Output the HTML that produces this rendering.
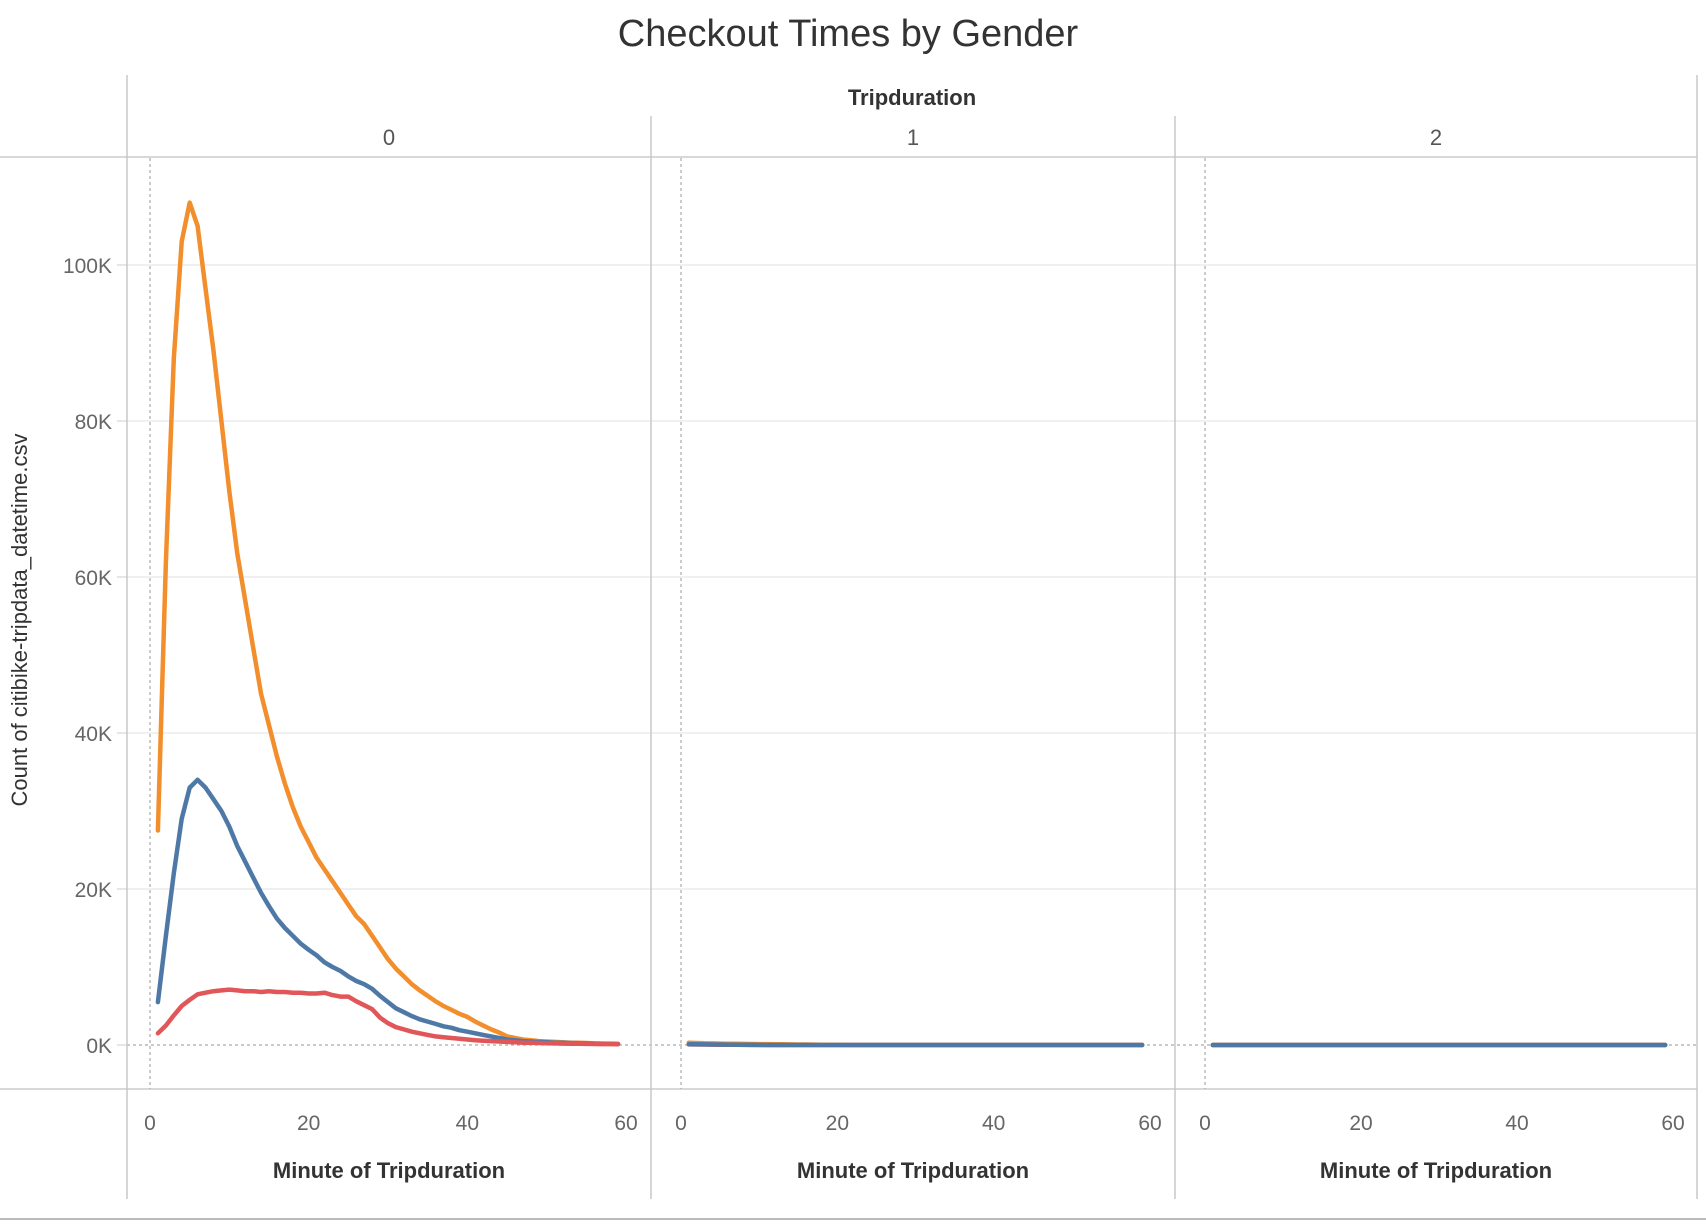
<!DOCTYPE html>
<html><head><meta charset="utf-8"><style>
html,body{margin:0;padding:0;background:#fff;}
svg{display:block;font-family:"Liberation Sans",sans-serif;}
</style></head><body>
<svg id="chart" width="1706" height="1224" viewBox="0 0 1706 1224">
<text x="848" y="46" font-size="38" text-anchor="middle" fill="#333">Checkout Times by Gender</text>
<text x="912" y="105" font-size="22" font-weight="bold" text-anchor="middle" fill="#333">Tripduration</text>
<text x="27" y="620" font-size="22" text-anchor="middle" fill="#333" transform="rotate(-90 27 620)">Count of citibike-tripdata_datetime.csv</text>
<g id="frame"></g>
<g id="marks"></g>
</svg>
<script>
const panels = ["0","1","2"];
const minutes = [1,2,3,4,5,6,7,8,9,10,11,12,13,14,15,16,17,18,19,20,21,22,23,24,25,26,27,28,29,30,31,32,33,34,35,36,37,38,39,40,41,42,43,44,45,46,47,48,49,50,51,52,53,54,55,56,57,58,59];
const orange0 = [27500,62000,88000,103000,108000,105000,97000,89000,80000,71000,63000,57000,51000,45000,41000,37000,33500,30500,28000,26000,24000,22500,21000,19500,18000,16500,15500,14000,12500,11000,9800,8800,7800,7000,6300,5600,5000,4500,4000,3600,3000,2500,2000,1600,1100,900,700,600,500,450,400,350,300,280,250,200,180,150,130];
const blue0 = [5500,14000,22000,29000,33000,34000,33000,31500,30000,28000,25500,23500,21500,19500,17800,16200,15000,14000,13000,12200,11500,10600,10000,9500,8800,8200,7800,7200,6300,5500,4700,4200,3700,3300,3000,2700,2400,2200,1900,1700,1500,1300,1100,900,700,600,500,450,400,350,300,280,250,220,200,180,160,150,130];
const red0 = [1500,2500,3800,5000,5800,6500,6700,6900,7000,7100,7000,6900,6900,6800,6900,6800,6800,6700,6700,6600,6600,6700,6400,6200,6200,5600,5100,4600,3500,2800,2300,2000,1700,1500,1300,1100,1000,900,800,700,600,550,500,450,400,350,300,280,250,220,200,180,160,150,140,130,120,110,100];
const orange1 = [300,250,220,200,180,160,150,140,130,120,110,100,90,80,70,60,50,40,30,20,10,0,0,0,0,0,0,0,0,0,0,0,0,0,0,0,0,0,0,0,0,0,0,0,0,0,0,0,0,0,0,0,0,0,0,0,0,0,0];
const blue1 = [100,90,80,70,60,50,40,30,20,10,0,0,0,0,0,0,0,0,0,0,0,0,0,0,0,0,0,0,0,0,0,0,0,0,0,0,0,0,0,0,0,0,0,0,0,0,0,0,0,0,0,0,0,0,0,0,0,0,0];
const red1 = [80,70,60,50,40,30,20,10,0,0,0,0,0,0,0,0,0,0,0,0,0,0,0,0,0,0,0,0,0,0,0,0,0,0,0,0,0,0,0,0,0,0,0,0,0,0,0,0,0,0,0,0,0,0,0,0,0,0,0];
const zeros = minutes.map(()=>0);
const yTicks = [0,20000,40000,60000,80000,100000];
const yTickLabels = ["0K","20K","40K","60K","80K","100K"];
const xTicks = [0,20,40,60];

const NS="http://www.w3.org/2000/svg";
const frame=document.getElementById('frame'), marks=document.getElementById('marks');
function mk(tag,attrs,parent){const e=document.createElementNS(NS,tag);for(const k in attrs)e.setAttribute(k,attrs[k]);parent.appendChild(e);return e;}
const panelX0=[150,681,1205], panelX60=[626,1150,1673];
const panelLeft=[127,651,1175], panelRight=[651,1175,1697];
function y(v){return 1045 - v/20000*156;}
function x(p,m){return panelX0[p]+(panelX60[p]-panelX0[p])*m/60;}

let l;
l=mk('line',{x1:0,y1:157,x2:1697,y2:157,stroke:'#ccc','stroke-width':1.5},frame);


l=mk('line',{x1:0,y1:1089,x2:1697,y2:1089,stroke:'#ccc','stroke-width':1.5},frame);


l=mk('line',{x1:0,y1:1219,x2:1706,y2:1219,stroke:'#bbb','stroke-width':2},frame);


yTicks.forEach((t,i)=>{
  if(t>0){const g=mk('line',{x1:127,y1:y(t),x2:1697,y2:y(t),stroke:'#ececec','stroke-width':1.5},frame);
  
  }
  const tk=mk('line',{x1:117,y1:y(t),x2:127,y2:y(t),stroke:'#ccc'},frame);
  
  
  const tx=mk('text',{x:112,y:y(t)+8,'font-size':21,'text-anchor':'end',fill:'#666'},frame);
  tx.textContent=yTickLabels[i];
  
  
});
l=mk('line',{x1:127,y1:y(0),x2:1697,y2:y(0),stroke:'#aaa','stroke-width':1.2,'stroke-dasharray':'3,3'},frame);


[127,651,1175,1697].forEach((vx,i)=>{
  const top = (i===0||i===3)?75:116;
  const v=mk('line',{x1:vx,y1:top,x2:vx,y2:1199,stroke:'#c8c8c8','stroke-width':1.5},frame);
  
  
});
panels.forEach((p,i)=>{
  const h=mk('text',{x:(panelLeft[i]+panelRight[i])/2,y:145,'font-size':22,'text-anchor':'middle',fill:'#555'},frame);
  h.textContent=p;
  
  
  const d=mk('line',{x1:x(i,0),y1:158,x2:x(i,0),y2:1089,stroke:'#aaa','stroke-width':1.2,'stroke-dasharray':'3,3'},frame);
  
  
  xTicks.forEach(t=>{
    const tx=mk('text',{x:x(i,t),y:1130,'font-size':21,'text-anchor':'middle',fill:'#666'},frame);
    tx.textContent=t;
    
    
  });
  const at=mk('text',{x:(panelLeft[i]+panelRight[i])/2,y:1178,'font-size':22,'font-weight':'bold','text-anchor':'middle',fill:'#333'},frame);
  at.textContent='Minute of Tripduration';
  
  
});
const colors={red:'#e15759',blue:'#4e79a7',orange:'#f28e2b'};
const draw0=[[orange0,'orange'],[blue0,'blue'],[red0,'red']];
const draw1=[[red1,'red'],[orange1,'orange'],[blue1,'blue']];
const draw2=[[zeros,'red'],[zeros,'orange'],[zeros,'blue']];
[draw0,draw1,draw2].forEach((set,pi)=>{
  set.forEach(([vals,c])=>{
    const d=vals.map((v,k)=>(k?'L':'M')+x(pi,minutes[k]).toFixed(1)+','+y(v).toFixed(1)).join(' ');
    const p=mk('path',{d:d,fill:'none',stroke:colors[c],'stroke-width':4.5,'stroke-linejoin':'round','stroke-linecap':'round'},marks);
    
    
  });
});
</script>
</body></html>
